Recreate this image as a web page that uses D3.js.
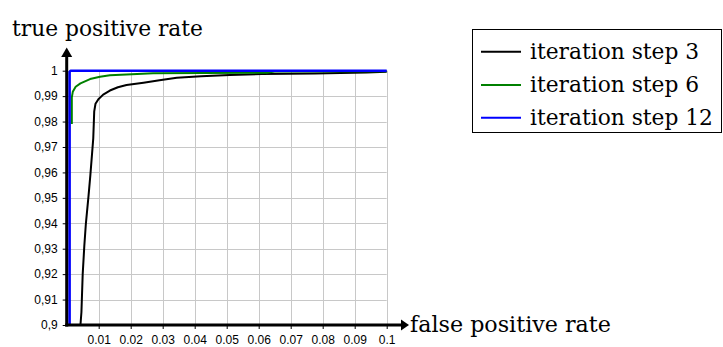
<!DOCTYPE html>
<html><head><meta charset="utf-8">
<script src="https://cdn.jsdelivr.net/npm/d3@7"></script>
<style>
html,body{margin:0;padding:0;background:#fff;}
svg{display:block;}
.serif{font-family:"DejaVu Serif","Liberation Serif","Noto Serif",serif;}
.sans{font-family:"Liberation Sans",Arial,sans-serif;}
</style></head>
<body>
<svg id="c" width="723" height="347"></svg>
<script>
// ---- data ----
const seriesNames = ["iteration step 3", "iteration step 6", "iteration step 12"];
const seriesColors = ["#000000", "#008000", "#0000ff"];
const step3 = [[0.0043,0.9],[0.0046,0.905],[0.005,0.92],[0.0055,0.931],[0.006,0.94],[0.0068,0.9505],[0.0074,0.959],[0.0079,0.967],[0.0083,0.9734],[0.0086,0.984],[0.009,0.987],[0.0099,0.9888],[0.0114,0.9906],[0.0135,0.9922],[0.016,0.9935],[0.0187,0.9944],[0.024,0.9953],[0.029,0.9962],[0.0344,0.9972],[0.042,0.9978],[0.051,0.9983],[0.061,0.9987],[0.0775,0.9989],[0.0937,0.9993],[0.1,0.9996]];
const step6 = [[0.0016,0.979],[0.0016,0.9895],[0.0019,0.9917],[0.0028,0.9937],[0.0043,0.995],[0.0073,0.9967],[0.0104,0.9976],[0.0135,0.9982],[0.0187,0.9985],[0.027,0.999],[0.0625,0.9992],[0.065,0.9997],[0.1,0.9998]];
const step12 = [[0.0009,0.9],[0.0009,0.9995],[0.0012,1.0],[0.1,1.0]];
const xTickValues = [0.01,0.02,0.03,0.04,0.05,0.06,0.07,0.08,0.09,0.1];
const xTickLabels = ["0.01","0.02","0.03","0.04","0.05","0.06","0.07","0.08","0.09","0.1"];
const yTickValues = [0.9,0.91,0.92,0.93,0.94,0.95,0.96,0.97,0.98,0.99,1.0];
const yTickLabels = ["0,9","0,91","0,92","0,93","0,94","0,95","0,96","0,97","0,98","0,99","1"];
const xTitle = "false positive rate";
const yTitle = "true positive rate";

// ---- layout ----
const svg = d3.select("#c");
const x = d3.scaleLinear().domain([0, 0.1]).range([66.7, 386.7]);
const y = d3.scaleLinear().domain([0.9, 1.0]).range([325, 70.7]);

// grid
const grid = svg.append("g").attr("stroke", "#c8c8c8").attr("stroke-width", 1);
grid.selectAll("line.v").data(xTickValues).join("line")
  .attr("x1", d => Math.round(x(d)) + 0.5).attr("x2", d => Math.round(x(d)) + 0.5)
  .attr("y1", y(0.9)).attr("y2", y(1.0));
grid.selectAll("line.h").data(yTickValues.slice(1)).join("line")
  .attr("y1", d => Math.round(y(d)) + 0.5).attr("y2", d => Math.round(y(d)) + 0.5)
  .attr("x1", x(0)).attr("x2", x(0.1));

// curves
const line = d3.line().x(d => x(d[0])).y(d => y(d[1]));
const allSeries = [step3, step6, step12];
const widths = [2, 2, 2.6];
allSeries.forEach((s, i) => {
  svg.append("path").datum(s).attr("d", line)
    .attr("fill", "none").attr("stroke", seriesColors[i])
    .attr("stroke-width", widths[i]).attr("stroke-linejoin", "round");
});

// axes
const xAxis = d3.axisBottom(x).tickValues(xTickValues)
  .tickFormat((d, i) => xTickLabels[i]).tickSize(4).tickPadding(6).tickSizeOuter(0);
const gx = svg.append("g").attr("transform", `translate(0,${y(0.9)})`).call(xAxis);
gx.attr("font-family", null).attr("class", "sans");
gx.select(".domain").remove();
gx.selectAll("text").attr("font-size", 12).attr("fill", "#000");
gx.selectAll("line").attr("stroke", "#000");

const yAxis = d3.axisLeft(y).tickValues(yTickValues)
  .tickFormat((d, i) => yTickLabels[i]).tickSize(4).tickPadding(5).tickSizeOuter(0);
const gy = svg.append("g").attr("transform", `translate(${x(0)},0)`).call(yAxis);
gy.attr("font-family", null).attr("class", "sans");
gy.select(".domain").remove();
gy.selectAll("text").attr("font-size", 12).attr("fill", "#000");
gy.selectAll("line").attr("stroke", "#000");

// axis lines with arrows
const x0 = x(0), y0 = y(0.9);
svg.append("line").attr("x1", x0 - 1.5).attr("x2", 402).attr("y1", y0).attr("y2", y0)
  .attr("stroke", "#000").attr("stroke-width", 3);
svg.append("path").attr("d", `M401,${y0-5.5}L409,${y0}L401,${y0+5.5}Z`).attr("fill", "#000");
svg.append("line").attr("x1", x0).attr("x2", x0).attr("y1", y0 + 1.5).attr("y2", 56)
  .attr("stroke", "#000").attr("stroke-width", 3);
svg.append("path").attr("d", `M${x0-5.5},57L${x0},47.5L${x0+5.5},57Z`).attr("fill", "#000");

// fit a serif text to a target width
function fitText(sel, targetW) {
  const w = sel.node().getComputedTextLength();
  const fs = +sel.attr("font-size");
  if (w > 0) sel.attr("font-size", (fs * targetW / w).toFixed(2));
  return sel;
}

// titles
fitText(svg.append("text").attr("class", "serif").attr("x", 12).attr("y", 36).attr("font-size", 24).text(yTitle), 191);
fitText(svg.append("text").attr("class", "serif").attr("x", 410).attr("y", 332).attr("font-size", 24).text(xTitle), 201);

// legend
const lg = svg.append("g");
lg.append("rect").attr("x", 472.5).attr("y", 29.5).attr("width", 249).attr("height", 103)
  .attr("fill", "#fff").attr("stroke", "#000").attr("stroke-width", 1);
const legY = [51.7, 85, 117.7];
const legTexts = [];
seriesNames.forEach((n, i) => {
  lg.append("line").attr("x1", 481).attr("x2", 521).attr("y1", legY[i]).attr("y2", legY[i])
    .attr("stroke", seriesColors[i]).attr("stroke-width", 2);
  legTexts.push(lg.append("text").attr("class", "serif").attr("x", 530).attr("y", legY[i] + 7)
    .attr("font-size", 24).text(n));
});
fitText(legTexts[2], 183);
legTexts[0].attr("font-size", legTexts[2].attr("font-size"));
legTexts[1].attr("font-size", legTexts[2].attr("font-size"));
</script>
</body></html>
